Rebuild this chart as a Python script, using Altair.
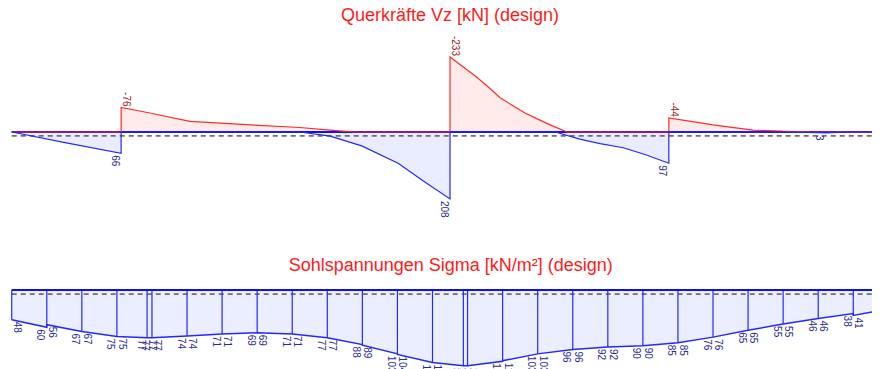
import altair as alt
import pandas as pd

# ---------------- data ----------------
# Querkräfte Vz [kN] (design): envelope along the footing, station x in m
vz_min_x = [0.0, 1.56, 1.56, 1.97, 2.54, 3.16, 4.11, 4.54, 4.90, 6.25, 6.25, 6.42, 6.61, 6.78,
            6.96, 7.13, 7.32, 7.50, 7.71, 7.92, 9.37, 9.37, 10.00, 10.57, 11.06, 11.43, 12.38]
vz_min = [0, 0, -76, -59, -33, -25, -14, -6, 0, 0, -233, -205, -174, -143,
          -107, -84, -59, -40, -19, 0, 0, -44, -22, -6, -2, 0, 0]
vz_max_x = [0.0, 0.76, 1.56, 1.56, 4.11, 4.54, 4.99, 5.51, 5.89, 6.25, 6.25, 7.75, 8.10,
            8.39, 8.72, 9.03, 9.37, 9.37, 11.10, 11.61, 11.95, 12.38]
vz_max = [0, 33, 66, 0, 0, 13, 43, 97, 155, 208, 0, 0, 22,
          36, 49, 70, 97, 0, 0, 3, 0, 0]
vz_min_lab_x = [1.56, 6.25, 9.37]
vz_min_lab = [-76, -233, -44]
vz_max_lab_x = [1.56, 6.25, 9.37, 11.61]
vz_max_lab = [66, 208, 97, 3]
vz_ref = 12

# Sohlspannungen Sigma [kN/m²] (design): element nodes and end values
sig_nodes = [0.00, 0.50, 1.00, 1.50, 1.93, 2.00, 2.50, 3.00, 3.50, 4.00, 4.50, 5.00, 5.50,
             6.00, 6.44, 6.50, 7.00, 7.50, 8.00, 8.50, 9.00, 9.50, 10.00, 10.50, 11.00,
             11.50, 12.00, 12.38]
sig_start = [48, 56, 67, 75, 77, 77, 74, 71, 69, 71, 77, 89, 104, 117, 122, 122, 114, 103,
             96, 92, 90, 85, 76, 65, 55, 46, 41]
sig_end = [60, 67, 75, 77, 77, 74, 71, 69, 71, 77, 88, 103, 117, 122, 122, 115, 103, 96,
           92, 90, 85, 76, 65, 55, 46, 38, 33]
sig_ref = 6.5

beam = [0.0, 12.38]
titles = ["Querkräfte Vz [kN] (design)", "Sohlspannungen Sigma [kN/m²] (design)"]

# ---------------- tables ----------------
vz_min_df = pd.DataFrame({"x": vz_min_x, "v": vz_min, "zero": 0, "i": range(len(vz_min))})
vz_max_df = pd.DataFrame({"x": vz_max_x, "v": vz_max, "zero": 0, "i": range(len(vz_max))})
vz_min_lab_df = pd.DataFrame({"x": vz_min_lab_x, "v": vz_min_lab, "t": [str(v) for v in vz_min_lab]})
vz_max_lab_df = pd.DataFrame({"x": vz_max_lab_x, "v": vz_max_lab, "t": [str(v) for v in vz_max_lab]})

pts = []
for k in range(len(sig_start)):
    pts.append((sig_nodes[k], sig_start[k]))
    pts.append((sig_nodes[k + 1], sig_end[k]))
sig_df = pd.DataFrame({"x": [p[0] for p in pts], "v": [p[1] for p in pts], "zero": 0,
                       "i": range(len(pts))})
rule_rows = []
left_rows, right_rows = [], []
for k in range(len(sig_nodes) - 1):
    vals = []
    if k > 0:
        vals.append(sig_end[k - 1])
        left_rows.append({"x": sig_nodes[k], "v": sig_end[k - 1], "t": str(sig_end[k - 1])})
    vals.append(sig_start[k])
    right_rows.append({"x": sig_nodes[k], "v": sig_start[k], "t": str(sig_start[k])})
    rule_rows.append({"x": sig_nodes[k], "zero": 0, "v": max(vals)})
sig_rules_df = pd.DataFrame(rule_rows)
sig_left_df = pd.DataFrame(left_rows)
sig_right_df = pd.DataFrame(right_rows)

base_df = pd.DataFrame({"x": [beam[0]], "x2": [beam[1]], "y": [0]})
ref_top_df = pd.DataFrame({"x": [beam[0]], "x2": [beam[1]], "y": [vz_ref]})
ref_bot_df = pd.DataFrame({"x": [beam[0]], "x2": [beam[1]], "y": [sig_ref]})

# ---------------- scales ----------------
xs = alt.Scale(domain=[-0.053, 12.267], nice=False, zero=False)
ys_top = alt.Scale(domain=[-385.1, 736.0], reverse=True, nice=False, zero=False)
ys_bot = alt.Scale(domain=[-454.8, 127.4], reverse=True, nice=False, zero=False)

FONT = "Liberation Sans"
BLUE_LINE = "#2626ff"
BLUE_BASE = "#1010e8"
LAB_BLUE = "#2a2a8c"
LAB_RED = "#9a1c1c"
TITLE_RED = "#ff1a1a"


def X(f="x"):
    return alt.X(f + ":Q", scale=xs, axis=None)


def Y(scale, f="v"):
    return alt.Y(f + ":Q", scale=scale, axis=None, stack=None)


def fill_area(df, scale, col):
    return alt.Chart(df).mark_area(fill=col, fillOpacity=1, strokeWidth=0).encode(
        x=X(), y=Y(scale), y2=alt.Y2("zero:Q"))


# ---------------- top: Querkräfte ----------------
red_area = fill_area(vz_min_df, ys_top, "#ffeaea")
blue_area = fill_area(vz_max_df, ys_top, "#eaedff")
top_ref = alt.Chart(ref_top_df).mark_rule(color="#707070", strokeDash=[5, 4], strokeWidth=1.7).encode(
    x=X(), x2="x2:Q", y=Y(ys_top, "y"))
top_base = alt.Chart(base_df).mark_rule(color=BLUE_BASE, strokeWidth=2).encode(
    x=X(), x2="x2:Q", y=Y(ys_top, "y"))
red_line = alt.Chart(vz_min_df).mark_line(color="#ff2a2a", strokeWidth=1.2).encode(
    x=X(), y=Y(ys_top), order="i:Q")
blue_line = alt.Chart(vz_max_df).mark_line(color=BLUE_LINE, strokeWidth=1.2).encode(
    x=X(), y=Y(ys_top), order="i:Q")
red_lab = alt.Chart(vz_min_lab_df).mark_text(
    angle=90, align="right", baseline="bottom", dx=-1, fontSize=10, font=FONT, color=LAB_RED
).encode(x=X(), y=Y(ys_top), text="t:N")
blue_lab = alt.Chart(vz_max_lab_df).mark_text(
    angle=90, align="left", baseline="top", dx=2, dy=1.5, fontSize=10, font=FONT, color=LAB_BLUE
).encode(x=X(), y=Y(ys_top), text="t:N")
top_title = alt.Chart(pd.DataFrame({"t": [titles[0]]})).mark_text(
    fontSize=18, font=FONT, color=TITLE_RED, align="center", baseline="alphabetic"
).encode(x=alt.X(datum=6.25, scale=xs, axis=None),
         y=alt.Y(datum=-343.2, scale=ys_top, axis=None), text="t:N")

top = alt.layer(red_area, blue_area, top_ref, top_base, red_line, blue_line,
                red_lab, blue_lab, top_title)

# ---------------- bottom: Sohlspannungen ----------------
sig_area = fill_area(sig_df, ys_bot, "#ebeeff")
bot_ref = alt.Chart(ref_bot_df).mark_rule(color="#707070", strokeDash=[5, 4], strokeWidth=1.7).encode(
    x=X(), x2="x2:Q", y=Y(ys_bot, "y"))
sig_rules = alt.Chart(sig_rules_df).mark_rule(color=BLUE_LINE, strokeWidth=1.2).encode(
    x=X(), y=Y(ys_bot), y2="zero:Q")
sig_line = alt.Chart(sig_df).mark_line(color=BLUE_LINE, strokeWidth=1.5).encode(
    x=X(), y=Y(ys_bot), order="i:Q")
bot_base = alt.Chart(base_df).mark_rule(color=BLUE_BASE, strokeWidth=2).encode(
    x=X(), x2="x2:Q", y=Y(ys_bot, "y"))
sig_left = alt.Chart(sig_left_df).mark_text(
    angle=90, align="left", baseline="top", dx=2, dy=1.5, fontSize=10, font=FONT, color=LAB_BLUE
).encode(x=X(), y=Y(ys_bot), text="t:N")
sig_right = alt.Chart(sig_right_df).mark_text(
    angle=90, align="left", baseline="bottom", dx=2, dy=0, fontSize=10, font=FONT, color=LAB_BLUE
).encode(x=X(), y=Y(ys_bot), text="t:N")
bot_title = alt.Chart(pd.DataFrame({"t": [titles[1]]})).mark_text(
    fontSize=18, font=FONT, color=TITLE_RED, align="center", baseline="alphabetic"
).encode(x=alt.X(datum=6.26, scale=xs, axis=None),
         y=alt.Y(datum=-30.6, scale=ys_bot, axis=None), text="t:N")

bottom = alt.layer(sig_area, bot_ref, sig_rules, sig_line, bot_base, sig_left, sig_right, bot_title)

chart = alt.layer(top, bottom).resolve_scale(y="independent").properties(
    width=864, height=361, padding=0, autosize=alt.AutoSizeParams(type="none")
).configure_view(stroke=None)

chart.save("out.html", embed_options={"renderer": "svg", "actions": False})
